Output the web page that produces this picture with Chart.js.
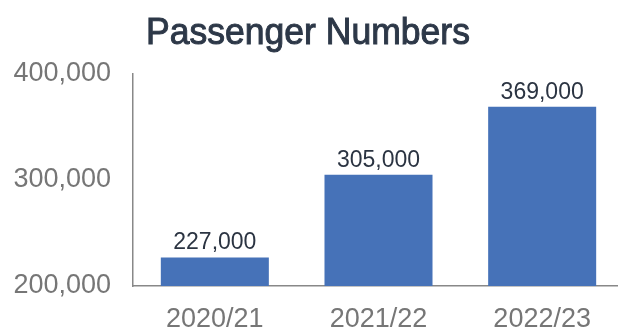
<!DOCTYPE html>
<html>
<head>
<meta charset="utf-8">
<script src="https://cdn.jsdelivr.net/npm/chart.js@4"></script>
<style>
  html, body { margin: 0; padding: 0; background: #fff; overflow: hidden; }
  #wrap { width: 624px; height: 331px; }
</style>
</head>
<body>
<div id="wrap"><canvas id="myChart" width="624" height="331"></canvas></div>
<script>
const chartTitle = "Passenger Numbers";
const years = ["2020/21", "2021/22", "2022/23"];
const passengers = [227000, 305000, 369000];
const yTicks = [200000, 300000, 400000];

// values above the bars
const barLabels = {
  id: "barLabels",
  afterDatasetsDraw(chart) {
    const ctx = chart.ctx;
    const meta = chart.getDatasetMeta(0);
    ctx.save();
    ctx.font = "23px 'Liberation Sans', Arial, sans-serif";
    ctx.fillStyle = "#2b3442";
    ctx.textAlign = "center";
    ctx.textBaseline = "alphabetic";
    meta.data.forEach((bar, i) => {
      ctx.fillText(passengers[i].toLocaleString("en-US"), bar.x, bar.y - 8);
    });
    ctx.restore();
  }
};

// title: medium-weight, slightly condensed
const narrowTitle = {
  id: "narrowTitle",
  afterDraw(chart) {
    const ctx = chart.ctx;
    ctx.save();
    ctx.translate(308, 44);
    ctx.scale(0.96, 1);
    ctx.font = "37px 'Liberation Sans', Arial, sans-serif";
    ctx.fillStyle = "#2d3848";
    ctx.strokeStyle = "#2d3848";
    ctx.lineWidth = 1;
    ctx.textAlign = "center";
    ctx.textBaseline = "alphabetic";
    ctx.fillText(chartTitle, 0, 0);
    ctx.strokeText(chartTitle, 0, 0);
    ctx.restore();
  }
};

new Chart(document.getElementById("myChart"), {
  type: "bar",
  data: {
    labels: years,
    datasets: [
      {
        label: "Passengers",
        data: passengers,
        backgroundColor: "#4672B8",
        categoryPercentage: 1,
        barPercentage: 0.66
      }
    ]
  },
  options: {
    responsive: false,
    animation: false,
    layout: { padding: { left: 10, right: 0, top: 74, bottom: 0 } },
    plugins: {
      legend: { display: false },
      tooltip: { enabled: false },
      title: { display: false }
    },
    scales: {
      x: {
        afterFit(scale) { scale.height = 45; },
        grid: { display: false, drawTicks: false },
        border: { display: true, color: "#888", width: 1.5 },
        ticks: {
          color: "#767676",
          padding: 17,
          font: { family: "'Liberation Sans', Arial, sans-serif", size: 27 }
        }
      },
      y: {
        min: yTicks[0],
        max: yTicks[yTicks.length - 1],
        afterBuildTicks(scale) {
          scale.ticks = yTicks.map(v => ({ value: v }));
        },
        afterFit(scale) { scale.width = 123; },
        grid: { display: false, drawTicks: false },
        border: { display: true, color: "#888", width: 1.5 },
        ticks: {
          color: "#767676",
          padding: 22,
          font: { family: "'Liberation Sans', Arial, sans-serif", size: 27 },
          callback: v => v.toLocaleString("en-US")
        }
      }
    }
  },
  plugins: [barLabels, narrowTitle]
});
</script>
</body>
</html>
